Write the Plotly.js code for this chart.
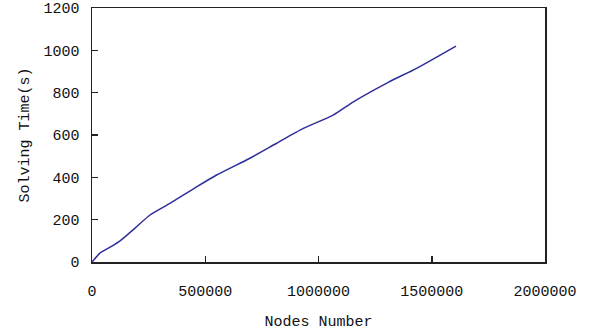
<!DOCTYPE html>
<html><head><meta charset="utf-8">
<script src="https://cdn.plot.ly/plotly-3.0.1.min.js"></script>
<style>html,body{margin:0;padding:0;background:#fff}#chart{width:601px;height:333px}</style>
</head><body><div id="chart"></div>
<script>
const nodes = [0, 20000, 35000, 80000, 124000, 190000, 256000, 344000, 450000, 550000, 697000, 815000, 933000, 1065000, 1154000, 1308000, 1433000, 1607000];
const solveTime = [0, 25, 42, 70, 100, 160, 222, 277, 347, 411, 490, 561, 631, 694, 757, 849, 915, 1020];
const xTicks = [0, 500000, 1000000, 1500000, 2000000];
const yTicks = [0, 200, 400, 600, 800, 1000, 1200];
const xTitle = 'Nodes Number';
const yTitle = 'Solving Time(s)';

const font = {family: 'Liberation Mono, DejaVu Sans Mono, monospace', size: 15, color: '#111'};
Plotly.newPlot('chart', [{
  x: nodes, y: solveTime, type: 'scatter', mode: 'lines',
  line: {color: '#2e2e9a', width: 1.5, shape: 'spline', smoothing: 0.6}, showlegend: false
}], {
  width: 601, height: 333,
  margin: {l: 92, r: 56, t: 8, b: 71},
  paper_bgcolor: '#fff', plot_bgcolor: '#fff',
  font: font,
  xaxis: {range: [0, 2000000], tickvals: xTicks, ticktext: xTicks.map(String),
    ticks: 'inside', ticklen: 6, tickcolor: '#222', tickwidth: 1.5,
    showline: true, linecolor: '#222', linewidth: 1.5, mirror: true,
    showgrid: false, zeroline: false, ticklabelstandoff: 14,
    title: {text: xTitle, font: font, standoff: 16}},
  yaxis: {range: [0, 1200], tickvals: yTicks, ticktext: yTicks.map(String),
    ticks: 'inside', ticklen: 6, tickcolor: '#222', tickwidth: 1.5,
    showline: true, linecolor: '#222', linewidth: 1.5, mirror: true,
    showgrid: false, zeroline: false, ticklabelstandoff: 8,
    title: {text: yTitle, font: font, standoff: 10}}
}, {displayModeBar: false, staticPlot: true});
</script></body></html>
